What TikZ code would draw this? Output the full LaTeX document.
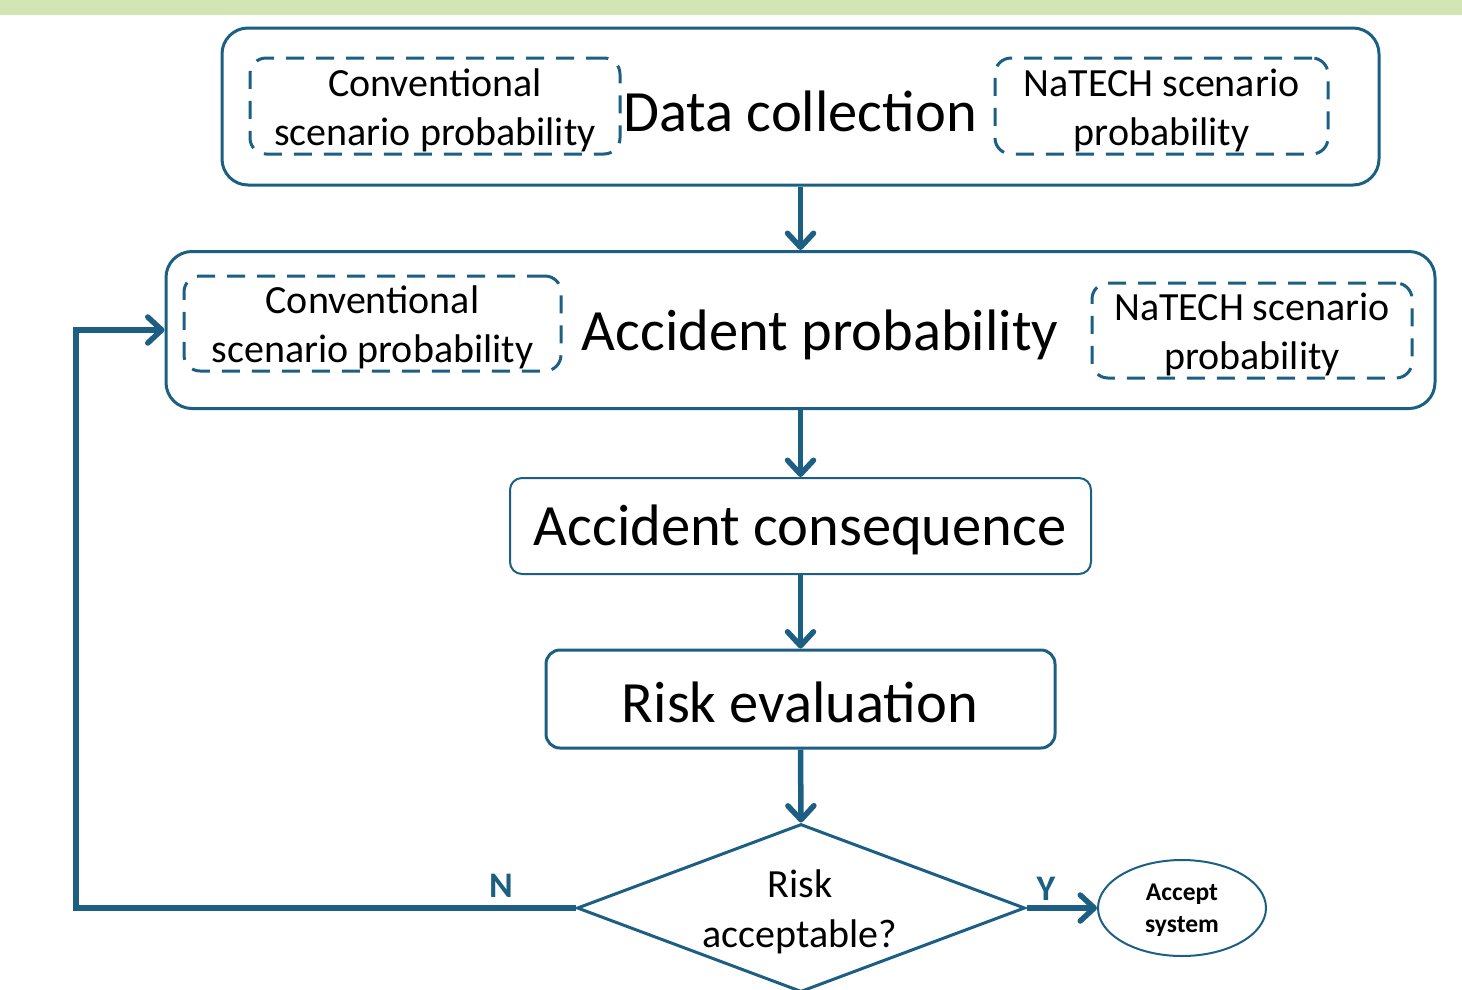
\documentclass[tikz,border=0pt]{standalone}
\usepackage{fontspec}
\setmainfont{Carlito}
\usetikzlibrary{shapes.geometric,arrows.meta}
\definecolor{teal}{RGB}{28,95,130}
\definecolor{band}{RGB}{211,228,181}
\tikzset{
  mainbox/.style={draw=teal,line width=3pt,rounded corners=26pt,inner sep=0pt},
  dashbox/.style={draw=teal,line width=3pt,rounded corners=16pt,dash pattern=on 18pt off 12pt,inner sep=0pt,align=center,font=\fontsize{40}{49}\selectfont},
  bigtext/.style={font=\fontsize{58.5}{68}\selectfont,inner sep=0pt},
  flow/.style={draw=teal,line width=5.5pt,-{Straight Barb[length=14pt,width=26pt,line width=5.5pt,round]},line join=miter},
  lbl/.style={text=teal,font=\fontsize{36}{40}\selectfont\bfseries,inner sep=0pt},
}
\begin{document}
\begin{tikzpicture}[x=1pt,y=-1pt]
\clip (0,0) rectangle (1462,989);
\fill[band] (0,0) rectangle (1462,15);
% data collection
\node[mainbox,minimum width=1157pt,minimum height=157pt] (dc) at (800.5,106.5) {};
\node[dashbox,minimum width=370pt,minimum height=96pt] (dc1) at (435,106) {};
\node[align=center,inner sep=0pt,font=\fontsize{40}{49}\selectfont] (dc1t) at (435,110) {Conventional\\scenario probability};
\node[dashbox,minimum width=333pt,minimum height=96pt] (dc2) at (1161.5,106) {};
\node[align=center,inner sep=0pt,font=\fontsize{40}{49}\selectfont] (dc2t) at (1161.5,110) {NaTECH scenario\\probability};
\node[bigtext] (dct) at (800,111) {Data collection};
% accident probability
\node[mainbox,minimum width=1269pt,minimum height=157pt] (ap) at (800.5,330) {};
\node[dashbox,minimum width=377pt,minimum height=95pt] (ap1) at (372.5,323.5) {};
\node[align=center,inner sep=0pt,font=\fontsize{40}{49}\selectfont] (ap1t) at (372.5,327) {Conventional\\scenario probability};
\node[dashbox,minimum width=320pt,minimum height=95pt] (ap2) at (1252,330.5) {};
\node[align=center,inner sep=0pt,font=\fontsize{40}{49}\selectfont] (ap2t) at (1252,334) {NaTECH scenario\\probability};
\node[bigtext] (apt) at (820,335) {Accident probability};
% consequence
\node[draw=teal,line width=2pt,rounded corners=12pt,minimum width=581pt,minimum height=96pt,inner sep=0pt] (ac) at (800.5,526) {};
\node[bigtext] (act) at (800,530) {Accident consequence};
% risk evaluation
\node[draw=teal,line width=3pt,rounded corners=14pt,minimum width=509pt,minimum height=98pt,inner sep=0pt] (re) at (800.5,699) {};
\node[bigtext] (ret) at (800,702) {Risk evaluation};
% decision
\node[diamond,draw=teal,line width=3pt,minimum width=448pt,minimum height=168pt,inner sep=0pt] (dia) at (801,908) {};
\node[align=center,inner sep=0pt,font=\fontsize{40}{50}\selectfont] (diat) at (800,912) {Risk\\acceptable?};
\node[ellipse,draw=teal,line width=2pt,minimum width=168pt,minimum height=96pt,inner sep=0pt] (acc) at (1182,908) {};
\node[align=center,inner sep=0pt,font=\fontsize{25.5}{32}\selectfont\bfseries] (acct) at (1182,910) {Accept\\system};
% connectors
\draw[flow] (dc.south) -- (ap.north);
\draw[flow] (ap.south) -- (ac.north);
\draw[flow] (ac.south) -- (re.north);
\draw[flow] (re.south) -- (dia.north);
\coordinate (nc) at (76,908);
\draw[flow] (dia.west) -- (nc) |- (ap.west);
\draw[flow] (dia.east) -- (acc.west);
\node[lbl] (nl) at (501,886) {N};
\node[lbl] (yl) at (1046,889) {Y};
\end{tikzpicture}
\end{document}
